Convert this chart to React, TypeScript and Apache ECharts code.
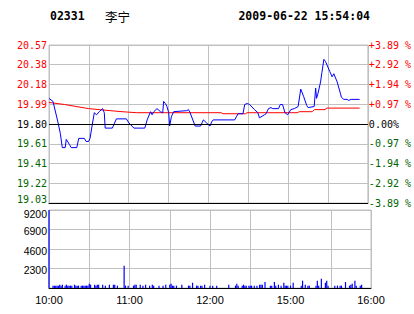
import React, { useEffect, useRef } from 'react';
import * as echarts from 'echarts';

const PREV_CLOSE = 19.8;
const STEP = 0.1925;
const PRICE_LABELS = ['19.03', '19.22', '19.41', '19.61', '19.80', '19.99', '20.18', '20.38', '20.57'];
const PCT_LABELS = ['-3.89 %', '-2.92 %', '-1.94 %', '-0.97 %', '0.00%', '+0.97 %', '+1.94 %', '+2.92 %', '+3.89 %'];
const TIME_TICK_POS = [0, 60, 120, 180, 240];
const TIME_TICK_LABELS = ['10:00', '11:00', '12:00', '15:00', '16:00'];
const VOL_MAX = 9200;
const VOL_STEP = 2300;

// minute index (0 = 10:00, 150 = 12:30/14:30, 240 = 16:00) and price
const PRICE_MIN = [0, 3, 6.7, 8.5, 10, 12.2, 13, 15.4, 16.7, 20.9, 22.4, 26.6, 27.9, 29.8, 30.9, 32.4, 34.1, 35.8, 37.8, 40.3, 41.6, 42.3, 47.7, 50.7, 58.2, 60.2, 63.9, 72.1, 73.9, 76.4, 77.6, 78.9, 81.3, 83.9, 85.6, 86.3, 87.6, 88.8, 90.1, 90.8, 92.1, 93.8, 103.7, 105, 106.2, 110, 114.1, 116.2, 118.6, 121.2, 122.4, 123.6, 139.8, 141, 142.3, 146, 147.3, 149.2, 151, 154.7, 157.2, 158.4, 162.2, 163.4, 165.2, 167.1, 168.4, 172.8, 174.1, 175.8, 177.6, 179.6, 182, 184.6, 187.5, 189.5, 191.6, 194, 195, 199.6, 200.7, 201.4, 202.5, 204.4, 205.4, 206.9, 208.1, 211.4, 213.1, 214.4, 216.9, 219.3, 220.1, 221.9, 224.3, 225.6, 227.4, 233.8];
const PRICE_VAL = [20.05, 20.02, 19.82, 19.71, 19.57, 19.57, 19.65, 19.6, 19.57, 19.57, 19.66, 19.66, 19.63, 19.63, 19.66, 19.78, 19.91, 19.89, 19.92, 19.95, 19.91, 19.76, 19.76, 19.85, 19.85, 19.81, 19.76, 19.76, 19.84, 19.92, 19.89, 19.92, 19.95, 19.92, 19.91, 20.02, 20.0, 19.97, 19.91, 19.78, 19.87, 19.92, 19.93, 19.94, 19.91, 19.78, 19.78, 19.84, 19.81, 19.78, 19.82, 19.84, 19.84, 19.87, 19.9, 19.9, 19.99, 20.0, 19.99, 19.94, 19.91, 19.86, 19.89, 19.9, 19.95, 19.96, 19.95, 19.95, 19.99, 19.99, 19.91, 19.89, 19.94, 19.95, 19.97, 20.14, 20.07, 19.98, 19.96, 19.97, 20.15, 20.05, 20.1, 20.21, 20.3, 20.43, 20.41, 20.31, 20.26, 20.29, 20.21, 20.1, 20.06, 20.04, 20.04, 20.03, 20.04, 20.04];

const AVG_MIN = [0, 11.7, 29.8, 46, 55, 66, 129.6, 131, 148, 149, 186.8, 188.5, 198.2, 199.7, 208, 208.7, 233.8];
const AVG_VAL = [20.01, 19.99, 19.95, 19.93, 19.92, 19.91, 19.91, 19.9, 19.9, 19.91, 19.91, 19.92, 19.92, 19.94, 19.94, 19.955, 19.955];

const VOL_MIN = [0, 3, 4, 5, 6, 7, 8, 9, 10, 12, 13, 14, 15, 16, 17, 19, 20, 21, 22, 24, 25, 26, 27, 28, 29, 30, 31, 34, 35, 36, 37, 40, 42, 45, 48, 49, 51, 56, 57, 59, 63, 64, 65, 68, 70, 72, 75, 77, 78, 82, 85, 87, 90, 91, 92, 93, 95, 99, 104, 105, 107, 110, 111, 113, 114, 116, 120, 122, 125, 134, 139, 140, 141, 144, 145, 146, 147, 149, 150, 151, 153, 155, 157, 158, 159, 161, 165, 166, 168, 169, 171, 173, 175, 176, 177, 178, 180, 182, 188, 189, 191, 193, 194, 199, 200, 201, 203, 206, 207, 208, 213, 215, 217, 218, 221, 224, 225, 226, 228, 229, 232, 233];
const VOL_VAL = [9200, 280, 280, 280, 280, 280, 390, 280, 390, 280, 390, 280, 280, 280, 280, 390, 280, 280, 280, 280, 280, 280, 280, 280, 280, 510, 390, 390, 280, 390, 390, 390, 280, 390, 390, 390, 280, 2620, 280, 280, 280, 390, 390, 390, 280, 390, 280, 390, 280, 280, 280, 390, 390, 510, 280, 280, 280, 390, 280, 280, 620, 280, 280, 280, 280, 390, 280, 280, 280, 390, 280, 510, 280, 280, 390, 280, 280, 280, 280, 280, 280, 280, 390, 390, 390, 700, 280, 280, 700, 280, 390, 280, 620, 280, 280, 280, 280, 620, 280, 860, 390, 280, 280, 280, 860, 280, 1100, 620, 860, 280, 280, 280, 280, 280, 700, 280, 390, 510, 860, 280, 280, 390];

const GRID_GRAY = '#C0C0C0';
const RED = '#FF0000';
const GREEN = '#006400';
const MONO = '"DejaVu Sans Mono", "Liberation Mono", monospace';
const SANS = '"Liberation Sans", Arial, sans-serif';

function tickIndex(v: number) {
  return Math.round(v / STEP) + 4;
}
function tickColor(v: number) {
  const i = tickIndex(v);
  return i > 4 ? RED : i < 4 ? GREEN : '#000000';
}

export default function App() {
  const ref = useRef<HTMLDivElement>(null);
  useEffect(() => {
    if (!ref.current) return;
    const chart = echarts.init(ref.current, undefined, { renderer: 'svg' });
    const priceData = PRICE_MIN.map((m, i) => [m, +(PRICE_VAL[i] - PREV_CLOSE).toFixed(4)]);
    const avgData = AVG_MIN.map((m, i) => [m, +(AVG_VAL[i] - PREV_CLOSE).toFixed(4)]);
    const volData = VOL_MIN.map((m, i) => [m, VOL_VAL[i]]);
    const timeFmt = (v: number) => {
      const i = TIME_TICK_POS.indexOf(Math.round(v));
      return i >= 0 ? TIME_TICK_LABELS[i] : '';
    };
    const yRange = 4 * STEP;
    chart.setOption({
      animation: false,
      backgroundColor: '#ffffff',
      grid: [
        { left: 49, width: 322, top: 45, height: 158, show: true, borderColor: GRID_GRAY, borderWidth: 1 },
        { left: 49, width: 322, top: 210, height: 78, show: true, borderColor: GRID_GRAY, borderWidth: 1 },
      ],
      graphic: [
        { type: 'text', x: 50, y: 16, style: { text: '02331', font: 'bold 11.5px ' + MONO, fill: '#000', align: 'left', verticalAlign: 'middle' } },
        { type: 'text', x: 105, y: 16, style: { text: '李宁', font: '12.5px "Noto Sans CJK SC"', fill: '#000', align: 'left', verticalAlign: 'middle' } },
        { type: 'text', x: 370, y: 16, style: { text: '2009-06-22 15:54:04', font: 'bold 11.5px ' + MONO, fill: '#000', align: 'right', verticalAlign: 'middle' } },
      ],
      xAxis: [
        {
          type: 'value', gridIndex: 0, min: 0, max: 240, interval: 30,
          axisLine: { show: true, onZero: false, lineStyle: { color: '#000', width: 1 } },
          axisTick: { show: false }, axisLabel: { show: false },
          splitLine: { show: true, lineStyle: { color: GRID_GRAY, width: 1 } },
        },
        {
          type: 'value', gridIndex: 1, min: 0, max: 240, interval: 30,
          axisLine: { show: true, onZero: false, lineStyle: { color: '#000', width: 1 } },
          axisTick: { show: false },
          axisLabel: { show: true, formatter: timeFmt, color: '#000', fontFamily: SANS, fontSize: 11, margin: 6, showMinLabel: true, showMaxLabel: true, hideOverlap: false },
          splitLine: { show: true, lineStyle: { color: GRID_GRAY, width: 1 } },
        },
      ],
      yAxis: [
        {
          type: 'value', gridIndex: 0, position: 'left', min: -yRange, max: yRange, interval: STEP,
          axisLine: { show: false }, axisTick: { show: false },
          axisLabel: {
            formatter: (v: number) => {
              const i = tickIndex(v);
              const t = PRICE_LABELS[i] ?? '';
              return i === 0 ? '{low|' + t + '}' : t;
            },
            color: (v: number) => tickColor(v), fontFamily: MONO, fontSize: 10, margin: 2,
            rich: { low: { fontFamily: MONO, fontSize: 10, color: GREEN, padding: [0, 0, 8, 0] } },
          },
          splitLine: { show: true, lineStyle: { color: GRID_GRAY, width: 1 } },
        },
        {
          type: 'value', gridIndex: 0, position: 'right', min: -yRange, max: yRange, interval: STEP,
          axisLine: { show: false }, axisTick: { show: false },
          axisLabel: { formatter: (v: number) => PCT_LABELS[tickIndex(v)] ?? '', color: (v: number) => tickColor(v), fontFamily: MONO, fontSize: 10, margin: 1 },
          splitLine: { show: false },
        },
        {
          type: 'value', gridIndex: 1, position: 'left', min: 0, max: VOL_MAX, interval: VOL_STEP,
          axisLine: { show: false }, axisTick: { show: false },
          axisLabel: {
            formatter: (v: number) => (v === 0 ? '' : v === VOL_MAX ? '{top|' + v + '}' : String(v)),
            color: '#000', fontFamily: SANS, fontSize: 10.5, margin: 2, padding: [3, 0, 0, 0],
            rich: { top: { fontFamily: SANS, fontSize: 10.5, color: '#000', padding: [4, 0, 0, 0] } },
          },
          splitLine: { show: true, lineStyle: { color: GRID_GRAY, width: 1 } },
        },
      ],
      series: [
        {
          type: 'line', xAxisIndex: 0, yAxisIndex: 0, data: avgData, symbol: 'none', silent: true,
          lineStyle: { color: RED, width: 1 },
          markLine: {
            silent: true, symbol: 'none', label: { show: false },
            lineStyle: { color: '#000', width: 1, type: 'solid' },
            data: [{ yAxis: 0 }],
          },
        },
        {
          type: 'line', xAxisIndex: 0, yAxisIndex: 0, data: priceData, symbol: 'none', silent: true,
          lineStyle: { color: '#0000FF', width: 1 },
        },
        {
          type: 'bar', xAxisIndex: 1, yAxisIndex: 2, data: volData, barWidth: 1.2, silent: true,
          itemStyle: { color: '#0000FF' },
        },
      ],
    });
    return () => chart.dispose();
  }, []);
  return <div ref={ref} style={{ position: 'fixed', left: 0, top: 0, width: 414, height: 314, background: '#fff' }} />;
}
